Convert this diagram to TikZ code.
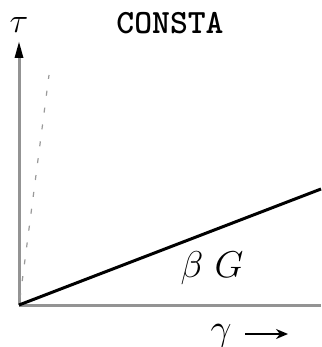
\documentclass[tikz,border=0pt]{standalone}
\usepackage{graphicx}
\usetikzlibrary{arrows.meta}
\begin{document}
\begin{tikzpicture}[x=1pt,y=-1pt,
  axis/.style={draw=gray!85,line width=3pt},
  lbl/.style={inner sep=0pt,anchor=center}]
\useasboundingbox (0,0) rectangle (321,347);
\coordinate (O) at (19,305);
\coordinate (ytop) at (19,42);
\coordinate (xend) at (321,305);
\coordinate (lend) at (321,189);
\coordinate (ds) at (20,298);
\coordinate (de) at (49,75);
\draw[axis] (O) -- (19,56);
\fill[black] (ytop) -- (23.5,58) -- (14.5,58) -- cycle;
\draw[axis] (O) -- (xend);
\draw[black,line width=3pt] (O) -- (lend);
\draw[gray!80,line width=1.2pt,dash pattern=on 5pt off 12pt] (ds) -- (de);
\node[lbl] (tau) at (19,25) {\scalebox{1.4}{\fontsize{24.88}{28}\selectfont$\tau$}};
\node[lbl] (title) at (170,23) {\fontsize{34}{38}\selectfont\ttfamily\bfseries CONSTA};
\node[lbl] (bg) at (212,268) {\scalebox{1.5}{\fontsize{24.88}{28}\selectfont$\beta\ G$}};
\node[lbl] (gam) at (221,336) {\scalebox{1.5}{\fontsize{24.88}{28}\selectfont$\gamma$}};
\coordinate (as) at (245,334);
\coordinate (ae) at (288,334);
\draw[black,line width=2pt,-{Stealth[length=12pt,width=10pt]}] (as) -- (ae);
\end{tikzpicture}
\end{document}
